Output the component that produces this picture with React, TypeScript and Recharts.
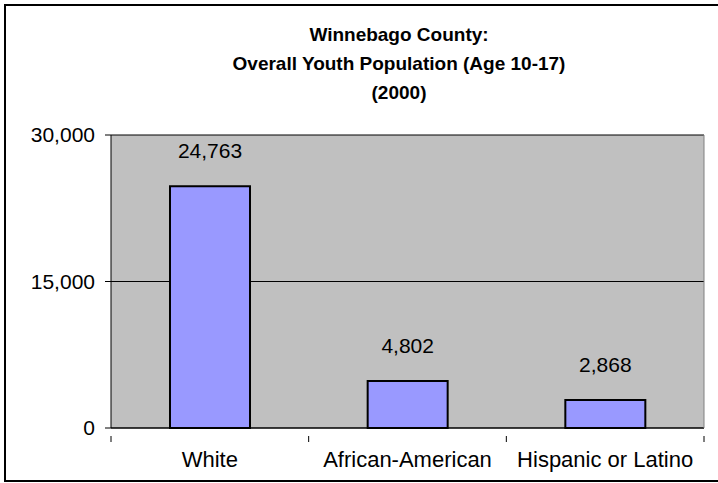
import { BarChart, Bar, XAxis, YAxis, CartesianGrid, LabelList } from 'recharts';

const categories = ['White', 'African-American', 'Hispanic or Latino'];
const youth = [24763, 4802, 2868];
const yTicks = [0, 15000, 30000];
const titleLines = ['Winnebago County:', 'Overall Youth Population (Age 10-17)', '(2000)'];

const data = categories.map((name, i) => ({ name, youth: youth[i] }));

const FONT = '"Liberation Sans", Arial, sans-serif';
const W = 718;
const H = 483;
const PLOT_LEFT = 111;
const PLOT_RIGHT = 704;
const BAND = (PLOT_RIGHT - PLOT_LEFT) / categories.length;

const fmt = (v: number) => v.toLocaleString('en-US');

function XTick(props: any) {
  const { x, y, payload, index } = props;
  const left = x - BAND / 2;
  return (
    <g>
      <line x1={left} y1={y} x2={left} y2={y + 6} stroke="#000" />
      {index === categories.length - 1 && (
        <line x1={left + BAND} y1={y} x2={left + BAND} y2={y + 6} stroke="#000" />
      )}
      <text x={x} y={y + 31} textAnchor="middle" fontSize={22} fontFamily={FONT} fill="#000">
        {payload.value}
      </text>
    </g>
  );
}

export default function App() {
  return (
    <div style={{ position: 'relative', width: W, height: H, background: '#fff', overflow: 'hidden' }}>
      <style>{'body{margin:0}'}</style>
      <div
        style={{
          position: 'absolute',
          left: 0,
          top: 20,
          width: 798,
          textAlign: 'center',
          fontFamily: FONT,
          fontWeight: 'bold',
          fontSize: 19,
          lineHeight: '29px',
          color: '#000',
        }}
      >
        {titleLines.map((t) => (
          <div key={t}>{t}</div>
        ))}
      </div>
      <div style={{ position: 'absolute', left: 0, top: 0 }}>
        <BarChart
          width={W}
          height={H}
          data={data}
          margin={{ top: 135, right: 0, left: 0, bottom: 0 }}
          barSize={80}
        >
          <CartesianGrid vertical={false} stroke="#000" fill="#C0C0C0" fillOpacity={1} />
          <XAxis
            dataKey="name"
            height={55}
            tickLine={false}
            axisLine={{ stroke: '#000' }}
            tick={<XTick />}
            interval={0}
          />
          <YAxis
            width={PLOT_LEFT}
            domain={[0, 30000]}
            ticks={yTicks}
            tickFormatter={fmt}
            tickSize={6}
            tickMargin={10}
            tickLine={{ stroke: '#000' }}
            axisLine={{ stroke: '#000' }}
            tick={{ fontSize: 21, fontFamily: FONT, fill: '#000' }}
          />
          <YAxis
            yAxisId="r"
            orientation="right"
            width={W - PLOT_RIGHT}
            domain={[0, 30000]}
            tick={false}
            tickLine={false}
            axisLine={{ stroke: '#808080' }}
          />
          <Bar dataKey="youth" fill="#9999FF" stroke="#000" strokeWidth={2} isAnimationActive={false}>
            <LabelList
              dataKey="youth"
              position="top"
              offset={28}
              formatter={(v: any) => fmt(Number(v))}
              style={{ fontSize: 21, fontFamily: FONT, fill: '#000' }}
            />
          </Bar>
        </BarChart>
      </div>
      <div
        style={{
          position: 'absolute',
          left: 4,
          top: 4,
          width: 800,
          height: 478,
          border: '2px solid #000',
          boxSizing: 'border-box',
          zIndex: 2,
          pointerEvents: 'none',
        }}
      />
    </div>
  );
}
